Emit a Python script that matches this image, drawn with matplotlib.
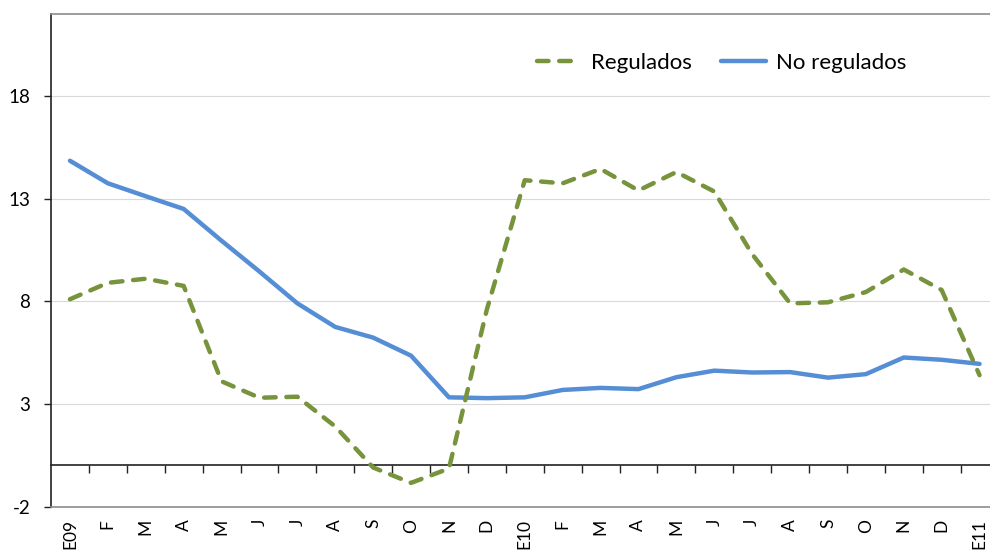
import matplotlib
matplotlib.use("Agg")
import matplotlib.pyplot as plt
import numpy as np

categories = ["E09", "F", "M", "A", "M", "J", "J", "A", "S", "O", "N", "D",
              "E10", "F", "M", "A", "M", "J", "J", "A", "S", "O", "N", "D", "E11"]
regulados = [8.1, 8.9, 9.1, 8.75, 4.1, 3.3, 3.35, 1.9, -0.1, -0.85, -0.15, 7.6,
             13.9, 13.75, 14.45, 13.4, 14.3, 13.35, 10.3, 7.9, 7.95, 8.45, 9.55, 8.55, 4.4]
no_regulados = [14.85, 13.75, 13.12, 12.5, 10.95, 9.45, 7.9, 6.75, 6.23, 5.35, 3.32, 3.28,
                3.32, 3.68, 3.78, 3.72, 4.3, 4.62, 4.53, 4.55, 4.28, 4.45, 5.26, 5.15, 4.95]
yticks = [-2, 3, 8, 13, 18]
series_names = ["Regulados", "No regulados"]

plt.rcParams['font.family'] = ['Lato', 'DejaVu Sans']

W, H = 990, 552
fig = plt.figure(figsize=(W / 100, H / 100), dpi=100)
left, right, top, bottom = 51, 998.5, 14, 506.5
ax = fig.add_axes([left / W, 1 - bottom / H, (right - left) / W, (bottom - top) / H])

x = np.arange(len(categories))
green = '#77933C'
blue = '#558ED5'

ax.plot(x, no_regulados, color=blue, lw=3.2, solid_capstyle='round',
        solid_joinstyle='round', label=series_names[1], zorder=3)
ax.plot(x, regulados, color=green, lw=3.2, dashes=(2.6, 2.4), dash_capstyle='round',
        dash_joinstyle='round', label=series_names[0], zorder=3)

ax.set_xlim(-0.5, len(categories) - 0.5)
ax.set_ylim(-2, 22)

# y axis
ax.set_yticks(yticks)
ax.set_yticklabels([str(v) for v in yticks])
ax.tick_params(axis='y', direction='out', length=5, width=1, color='#222222',
               labelsize=13.5, pad=10)
for v in yticks[1:]:
    ax.axhline(v, color='#D9D9D9', lw=0.8, zorder=1)

# bottom category labels
ax.set_xticks(x)
ax.set_xticklabels(categories, rotation=90, va='top', ha='center')
ax.tick_params(axis='x', length=0, labelsize=12.5, pad=9)

for s in ['top', 'bottom', 'right']:
    ax.spines[s].set_color('#8C8C8C')
    ax.spines[s].set_linewidth(1.2)
ax.spines['left'].set_color('#222222')
ax.spines['left'].set_linewidth(1.2)

# zero axis with tick marks between categories
zero_frac = (0 - (-2)) / (22 - (-2))
sec = ax.secondary_xaxis(zero_frac)
sec.set_xticks(np.arange(len(categories) - 1) + 0.5)
sec.set_xticklabels([])
sec.tick_params(axis='x', direction='out', length=6, width=1, color='#222222')
sec.spines['bottom'].set_color('#222222')
sec.spines['bottom'].set_linewidth(1.2)

# legend
handles, labels = ax.get_legend_handles_labels()
order = [1, 0]
leg = ax.legend([handles[i] for i in order], [labels[i] for i in order],
                ncol=2, frameon=False, fontsize=16, handlelength=2.0,
                handletextpad=0.45, columnspacing=1.3,
                loc='center', bbox_to_anchor=((721.5 - left) / (right - left), 1 - (63 - top) / (bottom - top)))

fig.savefig('out.png', dpi=100)
